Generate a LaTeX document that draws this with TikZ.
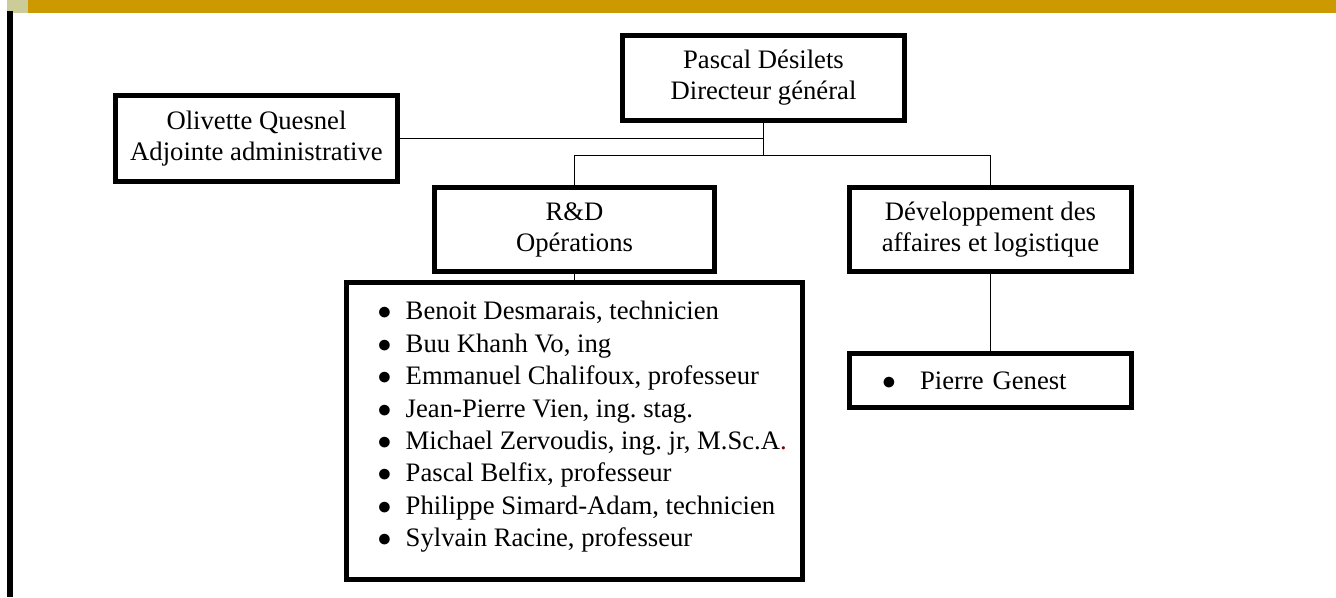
\documentclass[tikz,border=0pt]{standalone}
\usepackage{fontspec}
\setmainfont{Liberation Serif}
\usepackage{xcolor}
\usepackage{tikz}
\usetikzlibrary{positioning}
\tikzset{ORG style/.style={x=0.75pt,y=-0.75pt},
  unit box/.style={draw, line width=3.75pt, inner sep=0pt, align=center, font=\fontsize{20}{23.3}\selectfont},
  name list/.style={inner sep=0pt, align=left, font=\fontsize{20}{24.3}\selectfont},
  link/.style={line width=1.3pt}}
\definecolor{BarGold}{HTML}{CC9900}
\definecolor{BarTan}{HTML}{CCCC99}
\definecolor{DotRed}{HTML}{800000}
\newcommand{\itm}[2][21pt]{\makebox[#1][l]{$\bullet$}#2}
\frenchspacing

\begin{document}
\begin{tikzpicture}[ORG style]
\useasboundingbox (0,0) rectangle (1336,597);

\fill[BarTan] (7,0) rectangle (28,13);
\fill[BarGold] (28,0) rectangle (1336,13);
\fill[black] (7,11) rectangle (13,597);

\node[unit box, minimum width=211.5pt, minimum height=63.75pt] (dg) at (763.5,78) {Pascal Désilets\\Directeur général};
\node[unit box, minimum width=211.5pt, minimum height=64.5pt] (adj) at (256.5,138.5) {Olivette Quesnel\\Adjointe administrative};
\node[unit box, minimum width=210pt, minimum height=63pt] (rd) at (574.5,229.5) {R\&D\\Opérations};
\node[unit box, minimum width=211.5pt, minimum height=63pt] (dev) at (990.5,229.5) {Développement des\\affaires et logistique};
\node[unit box, minimum width=342pt, minimum height=222.75pt] (team) at (574.5,431) {};
\node[unit box, minimum width=211.5pt, minimum height=40.5pt, inner xsep=24.4pt, text width=162.7pt, align=left] (pierre) at (990.5,380.5) {\itm[28.5pt]{Pierre Genest}};

\node[name list, anchor=west] (names) at ([xshift=25.1pt, yshift=3pt]team.west) {%
\itm{Benoit Desmarais, technicien}\\
\itm{Buu Khanh Vo, ing}\\
\itm{Emmanuel Chalifoux, professeur}\\
\itm{Jean-Pierre Vien, ing. stag.}\\
\itm{Michael Zervoudis, ing. jr, M.Sc.A\textcolor{DotRed}{.}}\\
\itm{Pascal Belfix, professeur}\\
\itm{Philippe Simard-Adam, technicien}\\
\itm{Sylvain Racine, professeur}};

\draw[link] (dg.south) |- (adj.east);
\draw[link] (dg.south) -- ++(0,32.5) coordinate (hub);
\draw[link] (rd.north) |- (hub) -| (dev.north);
\draw[link] (rd) -- (team);
\draw[link] (dev) -- (pierre);
\end{tikzpicture}
\end{document}
